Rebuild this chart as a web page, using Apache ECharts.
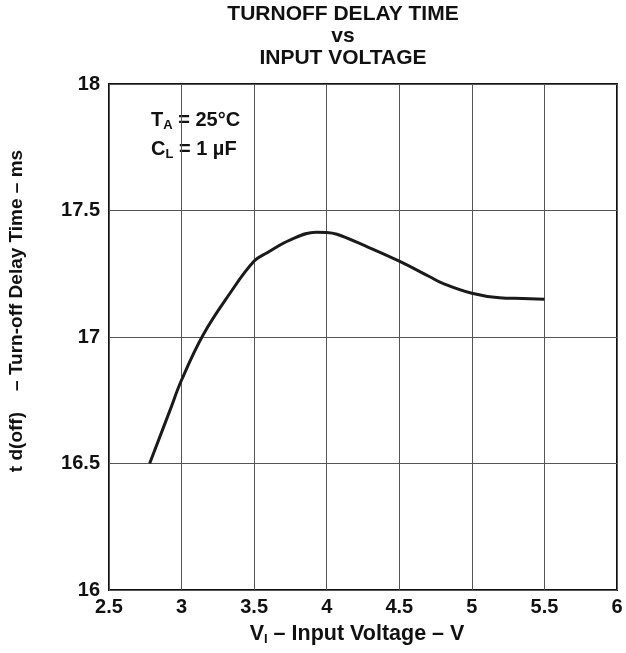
<!DOCTYPE html>
<html><head><meta charset="utf-8">
<script src="https://cdn.jsdelivr.net/npm/echarts@6/dist/echarts.min.js"></script>
<style>html,body{margin:0;padding:0;background:#fff}#c{width:626px;height:653px}</style>
</head><body><div id="c"></div>
<script>
const voltage = [2.78, 2.92, 3.0, 3.15, 3.33, 3.5, 3.59, 3.75, 3.93, 4.0, 4.07, 4.25, 4.5, 4.71, 4.8, 5.0, 5.19, 5.35, 5.5];
const delay   = [16.5, 16.71, 16.83, 17.01, 17.17, 17.30, 17.333, 17.384, 17.414, 17.413, 17.406, 17.364, 17.30, 17.238, 17.212, 17.173, 17.155, 17.152, 17.149];
const xTicks = [2.5, 3, 3.5, 4, 4.5, 5, 5.5, 6];
const yTicks = [16, 16.5, 17, 17.5, 18];

const FONT = 'Liberation Sans, Arial, sans-serif';
const chart = echarts.init(document.getElementById('c'), null, {renderer: 'canvas'});
chart.setOption({
  animation: false,
  backgroundColor: '#fff',
  grid: {left: 109, right: 9, top: 84, bottom: 63, show: true, borderColor: '#111', borderWidth: 2},
  xAxis: {
    type: 'value', min: xTicks[0], max: xTicks[xTicks.length - 1], interval: 0.5,
    axisLine: {show: false}, axisTick: {show: false},
    splitLine: {show: true, lineStyle: {color: '#555', width: 1}},
    axisLabel: {margin: 7, color: '#111', fontFamily: FONT, fontWeight: 'bold', fontSize: 20,
      formatter: v => String(v)}
  },
  yAxis: {
    type: 'value', min: yTicks[0], max: yTicks[yTicks.length - 1], interval: 0.5,
    axisLine: {show: false}, axisTick: {show: false},
    splitLine: {show: true, lineStyle: {color: '#555', width: 1}},
    axisLabel: {margin: 9, color: '#111', fontFamily: FONT, fontWeight: 'bold', fontSize: 20,
      formatter: v => String(v)}
  },
  series: [{
    type: 'line', smooth: 0.4, symbol: 'none',
    lineStyle: {color: '#1a1a1a', width: 3},
    data: voltage.map((v, i) => [v, delay[i]])
  }],
  graphic: [
    {type: 'text', x: 343, y: 3, style: {text: 'TURNOFF DELAY TIME\nvs\nINPUT VOLTAGE',
      textAlign: 'center', font: 'bold 21px ' + FONT, fill: '#111', lineHeight: 22}},
    {type: 'text', x: 357, y: 623, style: {
      text: '{b|V}{s|I}{b| – Input Voltage – V}', textAlign: 'center',
      rich: {b: {font: 'bold 21.5px ' + FONT, fill: '#111'}, s: {font: 'bold 13px ' + FONT, fill: '#111', padding: [10,0,0,0]}}
    }},
    {type: 'text', x: 17, y: 311, rotation: Math.PI / 2, style: {
      text: 't d(off)    – Turn-off Delay Time – ms', textAlign: 'center', textVerticalAlign: 'middle',
      font: 'bold 19px ' + FONT, fill: '#111'
    }},
    {type: 'text', x: 151, y: 109, style: {
      text: '{b|T}{s|A}{b| = 25°C}',
      rich: {b: {font: 'bold 20px ' + FONT, fill: '#111'}, s: {font: 'bold 13px ' + FONT, fill: '#111', padding: [10,0,0,0]}}
    }},
    {type: 'text', x: 151, y: 138, style: {
      text: '{b|C}{s|L}{b| = 1 µF}',
      rich: {b: {font: 'bold 20px ' + FONT, fill: '#111'}, s: {font: 'bold 13px ' + FONT, fill: '#111', padding: [10,0,0,0]}}
    }}
  ]
});
</script></body></html>
